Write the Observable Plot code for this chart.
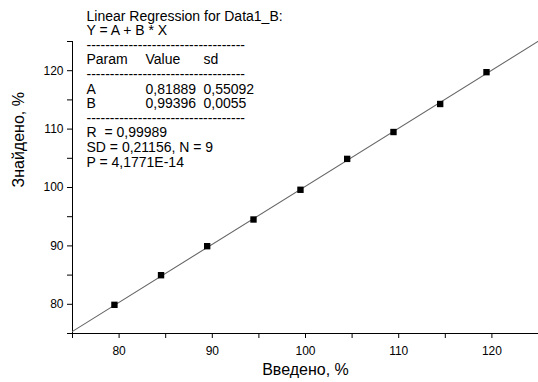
<!DOCTYPE html>
<html>
<head>
<meta charset="utf-8">
<script src="https://cdn.jsdelivr.net/npm/d3@7"></script>
<script src="https://cdn.jsdelivr.net/npm/@observablehq/plot@0.6"></script>
<style>
  html, body { margin: 0; padding: 0; background: #fff; }
  svg text { white-space: pre; }
</style>
</head>
<body>
<div id="chart"></div>
<script>
// Data
const introduced = [79.5, 84.5, 89.45, 94.42, 99.46, 104.47, 109.44, 114.45, 119.42];
const found      = [79.91, 84.98, 89.95, 94.52, 99.61, 104.9, 109.5, 114.3, 119.75];
const fitA = 0.81889;
const fitB = 0.99396;
const axisTicks = [75, 80, 85, 90, 95, 100, 105, 110, 115, 120, 125];
const xLabel = "Введено, %";
const yLabel = "Знайдено, %";
const dashes = "----------------------------------";
const col1 = ["Linear Regression for Data1_B:", "Y = A + B * X", dashes, "Param", dashes, "A", "B", dashes, "R  = 0,99989", "SD = 0,21156, N = 9", "P = 4,1771E-14"];
const col2 = ["", "", "", "Value", "", "0,81889", "0,99396", "", "", "", ""];
const col3 = ["", "", "", "sd", "", "0,55092", "0,0055", "", "", "", ""];

const points = introduced.map((x, i) => ({x, y: found[i]}));
const fitLine = [75, 125].map(x => ({x, y: fitA + fitB * x}));

const font = "'Liberation Sans', Arial, Helvetica, sans-serif";
const annot = [];
const colDx = [14, 73, 131];
[col1, col2, col3].forEach((col, c) => {
  col.forEach((t, i) => {
    if (!t) return;
    annot.push(Plot.text([t], {
      text: d => d,
      frameAnchor: "top-left",
      textAnchor: "start",
      lineAnchor: "bottom",
      dx: colDx[c],
      dy: -21 + i * 14.6,
      fontSize: 14,
      fill: "black"
    }));
  });
});

const chart = Plot.plot({
  width: 538,
  height: 382,
  marginLeft: 72,
  marginRight: 0,
  marginTop: 41,
  marginBottom: 49,
  style: {fontFamily: font, fontSize: "12px", color: "black", background: "white", overflow: "visible"},
  x: {domain: [75, 125], ticks: axisTicks, tickFormat: d => d % 10 === 0 ? String(d) : "", tickSize: 5, tickPadding: 8, line: true, label: null},
  y: {domain: [75, 125], ticks: axisTicks, tickFormat: d => d % 10 === 0 ? String(d) : "", tickSize: 5, tickPadding: 4, line: true, label: null},
  marks: [
    Plot.line(fitLine, {x: "x", y: "y", stroke: "#666", strokeWidth: 1.1, clip: true}),
    Plot.dot(points, {x: "x", y: "y", symbol: "square", r: 3.6, fill: "black", stroke: "none"}),
    Plot.text([xLabel], {text: d => d, frameAnchor: "bottom", dy: 41, fontSize: 16, fill: "black"}),
    Plot.text([yLabel], {text: d => d, frameAnchor: "left", dx: -54, rotate: -90, fontSize: 16, fill: "black"}),
    ...annot
  ]
});
document.getElementById("chart").appendChild(chart);
</script>
</body>
</html>
